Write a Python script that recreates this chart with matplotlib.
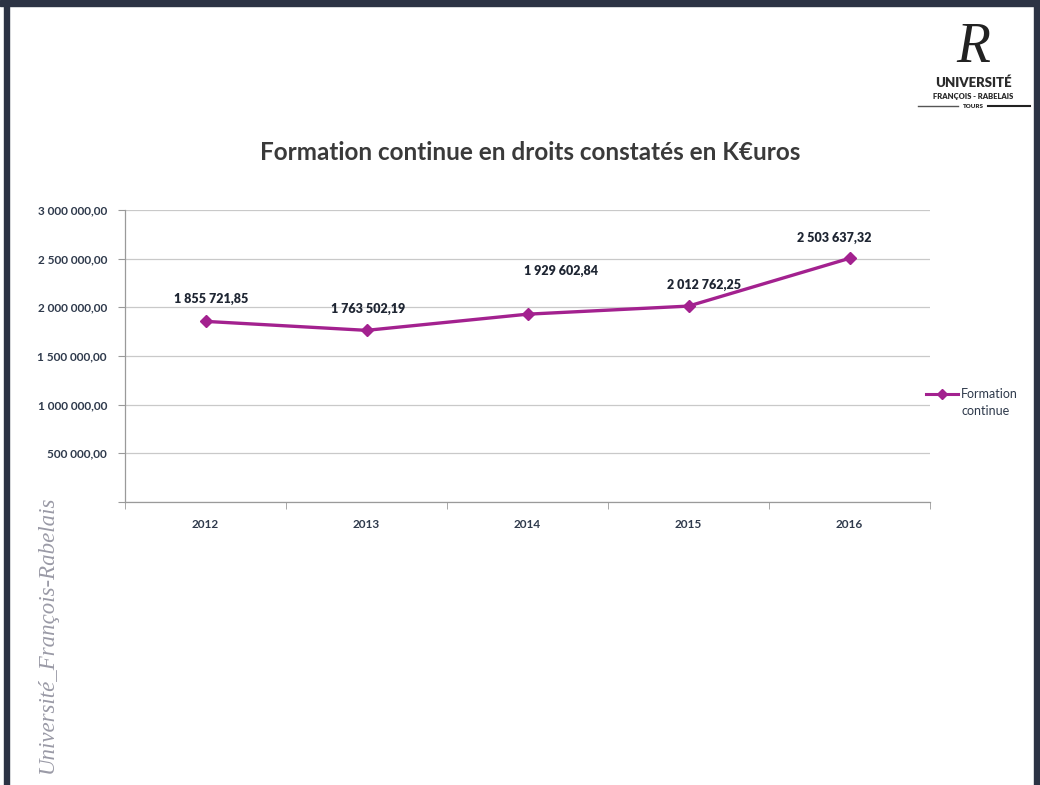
import matplotlib
matplotlib.use("Agg")
import matplotlib.pyplot as plt
from matplotlib.patches import Rectangle
from matplotlib.lines import Line2D

plt.rcParams['font.family'] = ['Lato', 'DejaVu Sans']

years = ["2012", "2013", "2014", "2015", "2016"]
values = [1855721.85, 1763502.19, 1929602.84, 2012762.25, 2503637.32]
value_labels = ["1 855 721,85", "1 763 502,19", "1 929 602,84", "2 012 762,25", "2 503 637,32"]
y_ticks = [0, 500000, 1000000, 1500000, 2000000, 2500000, 3000000]
y_tick_labels = ["", "500 000,00", "1 000 000,00", "1 500 000,00", "2 000 000,00", "2 500 000,00", "3 000 000,00"]
title = "Formation continue en droits constatés en K€uros"
series_name = "Formation\ncontinue"

LINE = "#a3218f"
TXT = "#2f3a4c"

fig = plt.figure(figsize=(10.4, 7.85), dpi=100)
fig.patch.set_facecolor("white")

ax = fig.add_axes([125/1040, 283/785, 805/1040, 292/785])
x = list(range(len(years)))
ax.plot(x, values, color=LINE, lw=2.4, marker="D", ms=6.5, mfc=LINE, mec=LINE, zorder=3)
ax.set_xlim(-0.5, len(years) - 0.5)
ax.set_ylim(0, 3000000)
ax.set_yticks(y_ticks)
ax.set_yticklabels(y_tick_labels, fontsize=8.5, fontweight="bold", color=TXT)
ax.set_xticks(x)
ax.set_xticklabels(years, fontsize=8.5, fontweight="bold", color=TXT)
ax.set_xticks([i - 0.5 for i in range(len(years) + 1)], minor=True)
ax.tick_params(axis="x", which="major", length=0, pad=12)
ax.tick_params(axis="x", which="minor", length=5, color="#9a9a9a", direction="out")
ax.tick_params(axis="y", length=5, color="#9a9a9a", pad=8)
ax.grid(axis="y", color="#c9c9c9", lw=0.9)
ax.set_axisbelow(True)
for s in ["top", "right"]:
    ax.spines[s].set_visible(False)
for s in ["left", "bottom"]:
    ax.spines[s].set_color("#9a9a9a")
    ax.spines[s].set_linewidth(0.9)

offsets = [(4, 12), (1, 11), (24, 27), (11, 11), (-11, 10)]
for xi, v, lab, off in zip(x, values, value_labels, offsets):
    ax.annotate(lab, (xi, v), xytext=off, textcoords="offset points",
                ha="center", va="bottom", fontsize=9, fontweight="heavy", color="#1f2633")

# Title
fig.text(530/1040, 1 - 152/785, title, ha="center", va="center", fontsize=17.5,
         fontweight="bold", color="#3a3a3a")

# Legend
fig.add_artist(Line2D([926/1040, 958/1040], [1 - 394/785, 1 - 394/785], color=LINE, lw=2.2))
fig.add_artist(Line2D([942/1040], [1 - 394/785], color=LINE, marker="D", ms=5.5, lw=0))
fig.text(961/1040, 1 - 394/785, "Formation", ha="left", va="center", fontsize=9, color=TXT)
fig.text(961/1040, 1 - 411/785, "continue", ha="left", va="center", fontsize=9, color=TXT)

# Slide frame
fig.add_artist(Rectangle((0, 1 - 6/785), 1, 6/785, transform=fig.transFigure, color="#2c3344"))
fig.add_artist(Rectangle((4/1040, 0), 5/1040, 1, transform=fig.transFigure, color="#2c3344"))
fig.add_artist(Rectangle((1034/1040, 0), 6/1040, 1, transform=fig.transFigure, color="#2c3344"))

# Vertical watermark text
fig.text(47/1040, 1 - 634/785, "Université_François-Rabelais", rotation=90, ha="center",
         va="center", fontsize=16.5, style="italic", color="#9a9aa6",
         family=["Liberation Serif", "DejaVu Serif"])

# Logo
fig.text(973/1040, 1 - 48/785, "R", ha="center", va="center", fontsize=40, style="italic",
         color="#222222", family=["Liberation Serif", "DejaVu Serif"])
fig.text(973/1040, 1 - 83/785, "UNIVERSITÉ", ha="center", va="center", fontsize=9.5,
         fontweight="heavy", color="#2a2a2a")
fig.text(973/1040, 1 - 96/785, "FRANÇOIS - RABELAIS", ha="center", va="center", fontsize=5.5,
         fontweight="heavy", color="#2a2a2a")
fig.text(973/1040, 1 - 106/785, "TOURS", ha="center", va="center", fontsize=4.5,
         fontweight="heavy", color="#2a2a2a")
fig.add_artist(Line2D([918/1040, 958/1040], [1 - 106/785] * 2, color="#555555", lw=1))
fig.add_artist(Line2D([988/1040, 1030/1040], [1 - 106/785] * 2, color="#222222", lw=1.5))

fig.savefig("out.png", dpi=100)
